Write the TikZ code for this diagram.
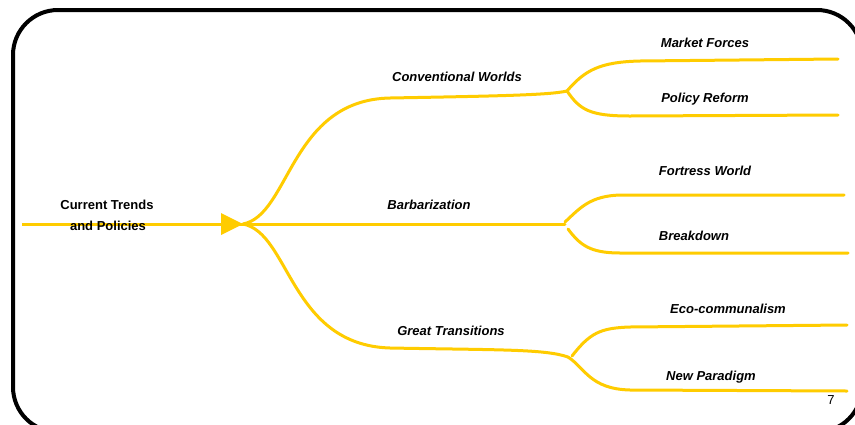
\documentclass[tikz,border=0pt]{standalone}
\usepackage{fontspec}
\setmainfont{Liberation Sans}
\definecolor{branch}{HTML}{FFCC00}
\begin{document}
\begin{tikzpicture}[x=1pt,y=-1pt,
  path/.style={draw=branch,line width=3pt,line cap=round},
  label/.style={anchor=base,inner sep=0pt,font=\fontsize{13}{15}\selectfont\bfseries\itshape},
  rootlabel/.style={anchor=base,inner sep=0pt,font=\fontsize{13}{15}\selectfont\bfseries}]
\useasboundingbox (0,0) rectangle (855,424);
\clip (0,0) rectangle (855,424);
\fill[white] (0,0) rectangle (855,424);

% outer frame
\draw[line width=4pt,rounded corners=45pt] (13,10) rectangle (862,432);

% key points
\coordinate (start) at (22,224);
\coordinate (tip) at (243,224);
\coordinate (jA) at (567,91);
\coordinate (jB) at (565,224);
\coordinate (jBu) at (565,222);
\coordinate (jBd) at (568,229);
\coordinate (jC) at (568,357);
\coordinate (jCu) at (572,356);
\coordinate (eA1) at (838,59);
\coordinate (eA2) at (838,115);
\coordinate (eB1) at (844,195);
\coordinate (eB2) at (848,253);
\coordinate (eC1) at (847,325);
\coordinate (eC2) at (847,391);

% trunk and arrowhead
\draw[path,line cap=butt] (start) -- (tip);
\fill[branch] (221,213) -- (tip) -- (221,235) -- cycle;

% three scenario branches
\draw[path] (tip) .. controls (290,215) and (290,100) .. (390,98)
  .. controls (500,96) and (550,95) .. (jA);
\draw[path] (tip) -- (jB);
\draw[path] (tip) .. controls (290,233) and (290,345) .. (390,348)
  .. controls (500,350) and (545,349) .. (jC);

% sub-branches
\draw[path] (jA) .. controls (585,70) and (600,62) .. (640,61) -- (eA1);
\draw[path] (jA) .. controls (580,110) and (590,116) .. (630,116) -- (eA2);
\draw[path] (jBu) .. controls (580,208) and (590,196) .. (620,195) -- (eB1);
\draw[path] (jBd) .. controls (580,245) and (590,253) .. (620,253) -- (eB2);
\draw[path] (jCu) .. controls (590,333) and (600,328) .. (630,327) -- (eC1);
\draw[path] (jC) .. controls (585,368) and (590,389) .. (630,390) -- (eC2);

% labels
\node[rootlabel] (root1) at (107,209) {Current Trends};
\node[rootlabel] (root2) at (108,230) {and Policies};
\node[label] (cw) at (457,81) {Conventional Worlds};
\node[label] (bb) at (429,209) {Barbarization};
\node[label] (gt) at (451,335) {Great Transitions};
\node[label] (mf) at (705,47) {Market Forces};
\node[label] (pr) at (705,102) {Policy Reform};
\node[label] (fw) at (705,175) {Fortress World};
\node[label] (bd) at (694,240) {Breakdown};
\node[label] (ec) at (728,313) {Eco-communalism};
\node[label] (np) at (711,380) {New Paradigm};
\node[anchor=base,inner sep=0pt,font=\fontsize{13}{15}\selectfont] (pg) at (831,404) {7};
\end{tikzpicture}
\end{document}
